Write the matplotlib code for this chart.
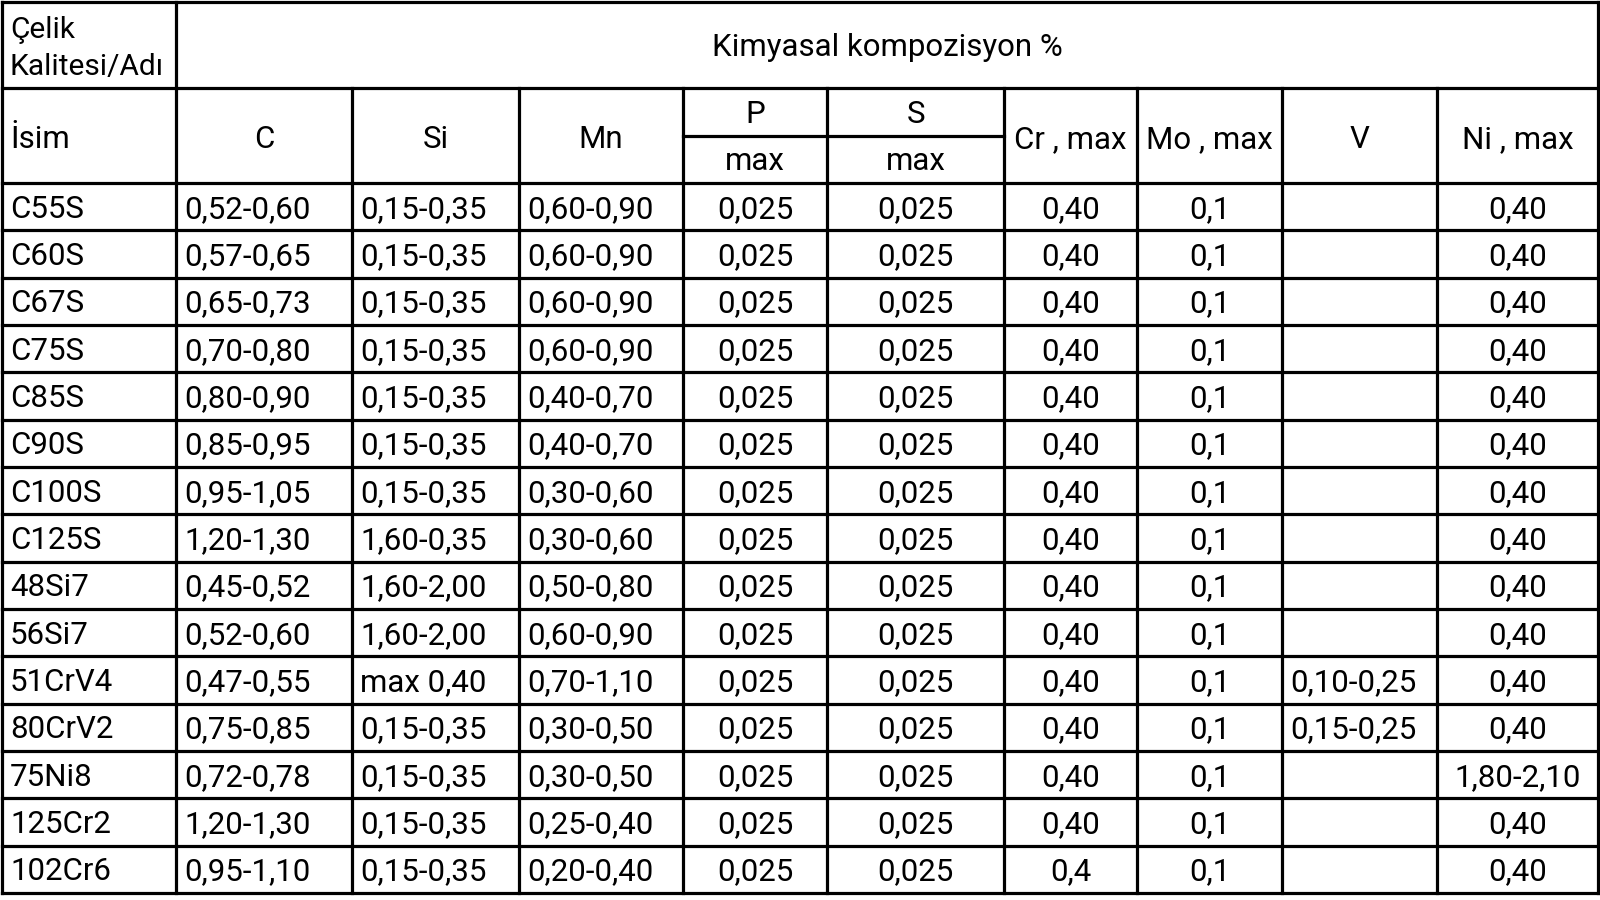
import matplotlib.pyplot as plt

plt.rcParams['font.family'] = ['Roboto', 'DejaVu Sans']

names = ['C55S', 'C60S', 'C67S', 'C75S', 'C85S', 'C90S', 'C100S', 'C125S',
         '48Si7', '56Si7', '51CrV4', '80CrV2', '75Ni8', '125Cr2', '102Cr6']
c_vals = ['0,52-0,60', '0,57-0,65', '0,65-0,73', '0,70-0,80', '0,80-0,90',
          '0,85-0,95', '0,95-1,05', '1,20-1,30', '0,45-0,52', '0,52-0,60',
          '0,47-0,55', '0,75-0,85', '0,72-0,78', '1,20-1,30', '0,95-1,10']
si_vals = ['0,15-0,35'] * 7 + ['1,60-0,35', '1,60-2,00', '1,60-2,00',
                               'max 0,40', '0,15-0,35', '0,15-0,35',
                               '0,15-0,35', '0,15-0,35']
mn_vals = ['0,60-0,90', '0,60-0,90', '0,60-0,90', '0,60-0,90', '0,40-0,70',
           '0,40-0,70', '0,30-0,60', '0,30-0,60', '0,50-0,80', '0,60-0,90',
           '0,70-1,10', '0,30-0,50', '0,30-0,50', '0,25-0,40', '0,20-0,40']
p_vals = ['0,025'] * 15
s_vals = ['0,025'] * 15
cr_vals = ['0,40'] * 14 + ['0,4']
mo_vals = ['0,1'] * 15
v_vals = [''] * 10 + ['0,10-0,25', '0,15-0,25', '', '', '']
ni_vals = ['0,40'] * 12 + ['1,80-2,10', '0,40', '0,40']

headers = ['İsim', 'C', 'Si', 'Mn', 'P', 'S', 'Cr , max', 'Mo , max', 'V', 'Ni , max']
columns = [names, c_vals, si_vals, mn_vals, p_vals, s_vals, cr_vals, mo_vals, v_vals, ni_vals]
align = ['left', 'left', 'left', 'left', 'center', 'center', 'center', 'center', 'left', 'center']

# table geometry in pixels
xs = [2, 176, 352, 519, 683, 827, 1004, 1137, 1282, 1437, 1598]
y_top, y_h1, y_h2, y_bot = 2, 88, 183, 893
row_h = (y_bot - y_h2) / len(names)

fig = plt.figure(figsize=(16, 9), dpi=100)
ax = fig.add_axes([0, 0, 1, 1])
ax.set_xlim(0, 1600)
ax.set_ylim(900, 0)
ax.axis('off')

lw = 2.3
kw = dict(color='black', lw=lw, solid_capstyle='projecting')

# horizontal lines
ax.plot([xs[0], xs[-1]], [y_top, y_top], **kw)
ax.plot([xs[0], xs[-1]], [y_h1, y_h1], **kw)
ax.plot([xs[4], xs[6]], [136, 136], **kw)
for i in range(len(names) + 1):
    y = y_h2 + i * row_h
    ax.plot([xs[0], xs[-1]], [y, y], **kw)

# vertical lines (first header row spans everything after column 1)
for j, x in enumerate(xs):
    if j in (0, 1, len(xs) - 1):
        ax.plot([x, x], [y_top, y_bot], **kw)
    else:
        ax.plot([x, x], [y_h1, y_bot], **kw)

fs = 22.5

# top header
ax.text(xs[0] + 8, 38, 'Çelik', fontsize=21.5, va='baseline', ha='left')
ax.text(xs[0] + 8, 75, 'Kalitesi/Adı', fontsize=21.5, va='baseline', ha='left')
ax.text((xs[1] + xs[-1]) / 2, 56, 'Kimyasal kompozisyon %', fontsize=fs,
        va='baseline', ha='center')

# second header row
for j, h in enumerate(headers):
    x0, x1 = xs[j], xs[j + 1]
    if h in ('P', 'S'):
        ax.text((x0 + x1) / 2, 123, h, fontsize=fs, va='baseline', ha='center')
        ax.text((x0 + x1) / 2, 170, 'max', fontsize=fs, va='baseline', ha='center')
    elif j == 0:
        ax.text(x0 + 8, 148, h, fontsize=fs, va='baseline', ha='left')
    else:
        ax.text((x0 + x1) / 2, 148, h, fontsize=fs, va='baseline', ha='center')

# body
for i in range(len(names)):
    yb = y_h2 + (i + 0.5) * row_h + 11
    for j, col in enumerate(columns):
        x0, x1 = xs[j], xs[j + 1]
        if align[j] == 'left':
            ax.text(x0 + 8, yb, col[i], fontsize=fs, va='baseline', ha='left')
        else:
            ax.text((x0 + x1) / 2, yb, col[i], fontsize=fs, va='baseline', ha='center')

fig.savefig('out.png', dpi=100, facecolor='white')
